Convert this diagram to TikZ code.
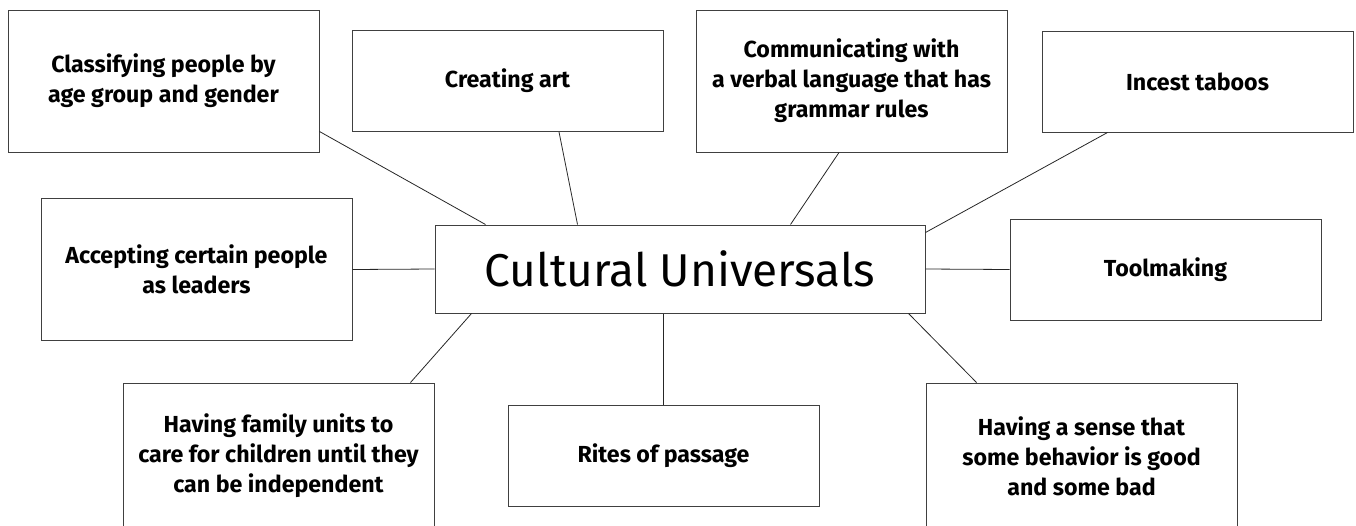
\documentclass[tikz,border=0pt]{standalone}
\usepackage{fontspec}
\setmainfont{Fira Sans}
\usetikzlibrary{positioning}

\begin{document}
\begin{tikzpicture}[x=1pt, y=-1pt,
    box/.style={draw=black!75, line width=1pt, minimum width=311pt, inner sep=0pt,
        align=center, font=\bfseries\fontsize{23.2}{30}\selectfont},
    tallbox/.style={box, minimum height=142pt},
    shortbox/.style={box, minimum height=101pt},
    link/.style={black!85, line width=0.8pt}]
    % Area del disegno
    \useasboundingbox (0,0) rectangle (1356,525);

    % Nodo centrale
    \node[draw=black!75, line width=1pt, minimum width=490pt, minimum height=88pt,
        font=\fontsize{46}{50}\selectfont] (center) at (680,269) {Cultural Universals};

    % Riga in alto
    \node[tallbox] (classify) at (163.5,81) {Classifying people by\\age group and gender};
    \node[shortbox] (art) at (507.5,81) {Creating art};
    \node[tallbox] (language) at (851.5,81) {Communicating with\\a verbal language that has\\grammar rules};
    \node[shortbox] (taboo) at (1197.5,81.5) {Incest taboos};

    % Riga di mezzo
    \node[tallbox] (leaders) at (196.5,269.5) {Accepting certain people\\as leaders};
    \node[shortbox] (tools) at (1165.5,269.5) {Toolmaking};

    % Riga in basso (tagliata dal bordo)
    \node[box, minimum height=146pt] (family) at (278.5,456) {Having family units to\\care for children until they\\can be independent};
    \node[shortbox] (rites) at (663.5,455.5) {Rites of passage};
    \node[box, minimum height=146pt] (morals) at (1081.5,456) {Having a sense that\\some behavior is good\\and some bad};

    % Collegamenti
    \draw[link] ([yshift=21pt]classify.south east) -- ([xshift=51pt]center.north west);
    \draw[link] ([xshift=51.5pt]art.south) -- ([xshift=143pt]center.north west);
    \draw[link] ([xshift=-12.5pt]language.south) -- ([xshift=-135pt]center.north east);
    \draw[link] ([xshift=66pt]taboo.south west) -- ([yshift=-8pt]center.north east);
    \draw[link] (leaders.east) -- (center.west);
    \draw[link] (center.east) -- (tools.west);
    \draw[link] ([xshift=37pt]center.south west) -- ([xshift=-24pt]family.north east);
    \draw[link] (rites.north |- center.south) -- (rites.north);
    \draw[link] ([xshift=-17pt]center.south east) -- ([xshift=51pt]morals.north west);
\end{tikzpicture}
\end{document}
